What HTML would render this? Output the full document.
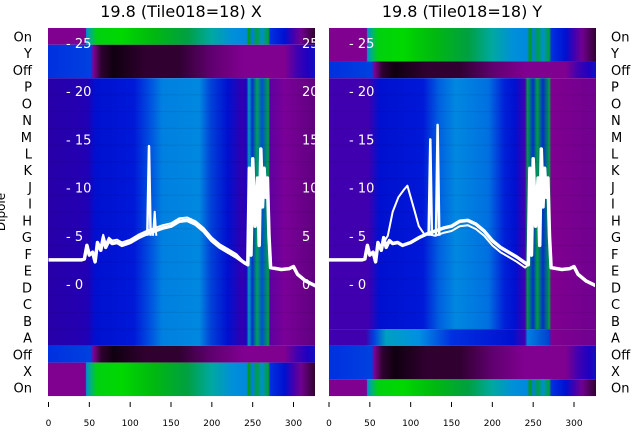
<!DOCTYPE html>
<html><head><meta charset="utf-8"><style>
body{margin:0;background:#fff;}
svg{display:block;font-family:"DejaVu Sans","Liberation Sans",sans-serif;}
</style></head><body>
<svg id="s" width="640" height="440" xmlns="http://www.w3.org/2000/svg"></svg>
<script>
const S=document.getElementById('s');
let h='';
function grad(id,stops){h+=`<linearGradient id="${id}" x1="0" x2="1" y1="0" y2="0">`+stops.map(s=>`<stop offset="${(s[0]/327).toFixed(4)}" stop-color="${s[1]}"/>`).join('')+`</linearGradient>`;}
h+='<defs>';
grad('green',[[0,'#800090'],[46,'#800090'],[47,'#0090d0'],[52,'#00b080'],[60,'#00d010'],[90,'#00d800'],[130,'#00b810'],[170,'#00a040'],[200,'#00a8a0'],[225,'#0090d8'],[243,'#0088e0'],[246,'#00a000'],[250,'#0080e0'],[256,'#00a040'],[262,'#0090d0'],[270,'#00a030'],[272,'#0030e0'],[290,'#0010d0'],[300,'#4000b0'],[310,'#700090'],[327,'#300030']]);
grad('dark',[[0,'#0030e0'],[52,'#0040e0'],[56,'#800090'],[65,'#300030'],[80,'#100010'],[120,'#300030'],[160,'#300030'],[200,'#600070'],[240,'#800090'],[290,'#800090'],[305,'#4000b0'],[318,'#2000c0'],[327,'#1010c0']]);
grad('mid',[[0,'#2800a8'],[48,'#2200b4'],[58,'#0010d0'],[105,'#0018d8'],[125,'#0050e0'],[140,'#0080e0'],[185,'#0088e0'],[200,'#0040d8'],[220,'#0010d0'],[238,'#3000b0'],[243,'#2000c0'],[246,'#00a0c0'],[250,'#0030d0'],[256,'#00a060'],[262,'#0050d0'],[270,'#00a040'],[272,'#6000a0'],[290,'#7a0098'],[327,'#600080']]);
grad('rmid',[[0,'#4000b0'],[48,'#4000b0'],[62,'#0010d0'],[115,'#0018d8'],[135,'#0060e0'],[155,'#0088e0'],[195,'#0070e0'],[215,'#0020d8'],[228,'#0010d0'],[240,'#4000b0'],[243,'#00a040'],[250,'#0030d0'],[255,'#00a040'],[262,'#0030d0'],[270,'#00a040'],[272,'#800090'],[327,'#700090']]);
grad('rA',[[0,'#4000b0'],[45,'#4000b0'],[55,'#0040e0'],[70,'#00a0c0'],[110,'#0090e0'],[150,'#0030e0'],[225,'#0010d0'],[240,'#4000b0'],[243,'#0080e0'],[270,'#0040d0'],[272,'#800090'],[327,'#700090']]);
h+='<clipPath id="cL"><rect x="48" y="28" width="267" height="368"/></clipPath><clipPath id="cR"><rect x="329" y="28" width="266" height="368"/></clipPath>';
h+='</defs>';
const R=i=>28+i*16.73;
function rect(x,y1,y2,f,w){h+=`<rect x="${x}" y="${y1}" width="${w}" height="${y2-y1}" fill="url(#${f})"/>`;}
let L=48,W=267;
rect(L,R(0),R(1),'green',W);rect(L,R(1),R(3),'dark',W);rect(L,R(3),R(19),'mid',W);rect(L,R(19),R(20),'dark',W);rect(L,R(20),R(22),'green',W);
let Rx=329;
rect(Rx,R(0),R(2),'green',W);rect(Rx,R(2),R(3),'dark',W);rect(Rx,R(3),R(18),'rmid',W);rect(Rx,R(18),R(19),'rA',W);rect(Rx,R(19),R(21),'dark',W);rect(Rx,R(21),R(22),'green',W);
for(let i=4;i<19;i++){h+=`<line x1="48" x2="315" y1="${R(i)}" y2="${R(i)}" stroke="rgba(0,0,0,0.08)"/><line x1="329" x2="595" y1="${R(i)}" y2="${R(i)}" stroke="rgba(0,0,0,0.08)"/>`;}
const labs=['On','Y','Off','P','O','N','M','L','K','J','I','H','G','F','E','D','C','B','A','Off','X','On'];
labs.forEach((t,i)=>{let y=R(i)+8.4+5;h+=`<text x="32" y="${y}" font-size="13" text-anchor="end">${t}</text><text x="611" y="${y}" font-size="13">${t}</text>`;});
h+=`<text x="5" y="212" font-size="12" transform="rotate(-90 5 212)" text-anchor="middle">Dipole</text>`;
h+=`<text x="181" y="17" font-size="16" text-anchor="middle">19.8 (Tile018=18) X</text><text x="462" y="17" font-size="16" text-anchor="middle">19.8 (Tile018=18) Y</text>`;
[0,50,100,150,200,250,300].forEach(v=>{let a=48.5+v*0.8167,b=329+v*0.8167;h+=`<line x1="${a}" x2="${a}" y1="402" y2="407" stroke="#000"/><text x="${a}" y="426" font-size="9" text-anchor="middle">${v}</text><line x1="${b}" x2="${b}" y1="402" y2="407" stroke="#000"/><text x="${b}" y="426" font-size="9" text-anchor="middle">${v}</text>`;});
const py=v=>284-v*9.64;
[0,5,10,15,20,25].forEach(v=>{let y=py(v);h+=`<text x="66" y="${y+5}" font-size="13" fill="#fff">- ${v}</text><text x="349" y="${y+5}" font-size="13" fill="#fff">- ${v}</text><text x="302" y="${y+5}" font-size="13" fill="#fff" clip-path="url(#cL)">${v}</text>`;});
const main=[[0,2.5],[40,2.5],[44,2.6],[47,4],[50,3],[54,3.3],[57,2.3],[60,4.3],[64,3.5],[67,4.8],[70,3.8],[74,4.5],[78,4.2],[84,4.3],[90,4],[100,4.3],[110,4.8],[120,5.2],[130,5.5],[140,5.8],[150,6],[160,6.5],[170,6.6],[180,6.2],[190,5.5],[200,4.5],[210,3.8],[220,3.3],[230,2.8],[240,2.2],[244,2],[246,12],[248,3],[250,13],[253,6],[256,11],[258,4],[260,14],[262,8],[264,12],[266,9],[268,11],[270,5],[272,1.7],[285,1.5],[295,1.6],[300,1.8],[305,1],[315,0.3],[327,-0.2]];
function pl(pts,x0,w,cl){h+=`<polyline clip-path="url(#${cl})" fill="none" stroke="#fff" stroke-width="${w}" stroke-linejoin="round" points="${pts.map(p=>(x0+p[0]*0.8167).toFixed(1)+','+py(p[1]).toFixed(1)).join(' ')}"/>`;}
pl(main,48.5,3.5,'cL');
pl(main.map(p=>[p[0],p[1]+(p[0]>60&&p[0]<240?0.3:0)]),48.5,2,'cL');
pl([[121,5],[123,14.3],[125,5]],48.5,2.5,'cL');
pl([[128,5],[130,7.5],[132,5]],48.5,2,'cL');
pl(main,329,3.5,'cR');
pl(main.map(p=>[p[0],p[1]-(p[0]>120&&p[0]<242?0.5:0)]),329,2,'cR');
pl([[65,4],[72,5],[78,7.5],[85,9],[92,9.8],[96,10.2],[100,9],[105,7.5],[110,6],[118,5]],329,2,'cR');
pl([[122,5],[124,15],[126,5]],329,2.5,'cR');
pl([[131,5],[133,16.5],[135,5]],329,2.5,'cR');
S.innerHTML=h;
</script>
</body></html>
